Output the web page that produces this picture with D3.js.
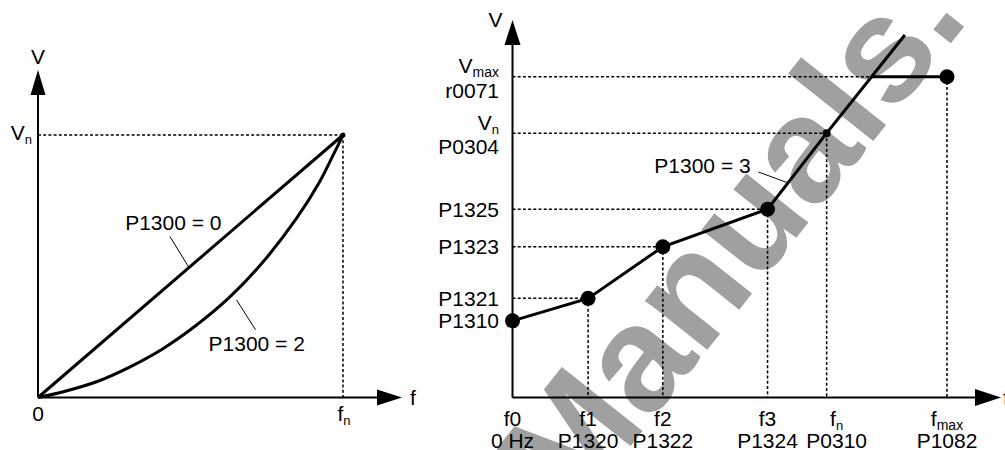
<!DOCTYPE html>
<html>
<head>
<meta charset="utf-8">
<script src="https://cdn.jsdelivr.net/npm/d3@7"></script>
<style>
  html, body { margin: 0; padding: 0; background: #fff; }
  svg { display: block; }
  text { font-family: "Liberation Sans", Arial, sans-serif; font-size: 21px; fill: #000; }
</style>
</head>
<body>
<svg id="chart" width="1005" height="450"></svg>
<script>
// ---------------- DATA ----------------
// Left chart: normalised f/fn and V/Vn
const linearF = [0, 1];
const linearV = [0, 1];
const quadF = [0, 0.083, 0.192, 0.302, 0.411, 0.520, 0.630, 0.739, 0.848, 0.924, 0.968, 1.0];
const quadV = [0, 0.022, 0.060, 0.117, 0.187, 0.276, 0.384, 0.518, 0.683, 0.823, 0.924, 1.0];
const leftCurveLabels = ["P1300 = 0", "P1300 = 2"];

// Right chart: programmable V/f (units: % of fmax / % of Vmax)
const boostF = [0, 17.4, 34.6, 58.7, 72.3];
const boostV = [23.9, 30.9, 47.0, 58.7, 82.4];
const boostVNames = ["P1310", "P1321", "P1323", "P1325", "P0304"];
const boostFTop = ["f0", "f1", "f2", "f3", "f|n"];
const boostFBottom = ["0 Hz", "P1320", "P1322", "P1324", "P0310"];
const lineEnd = [90.3, 113];
const fmax = 100, vmax = 100;
const fmaxLabels = ["f|max", "P1082"];
const vmaxLabels = ["V|max", "r0071"];
const vnLabels = ["V|n", "P0304"];
const rightCurveLabel = "P1300 = 3";
const watermark = "Manuals.";

// ---------------- DRAW ----------------
const svg = d3.select("#chart");
svg.append("rect").attr("width", 1005).attr("height", 450).attr("fill", "#fff");

// watermark (beneath the drawing)
svg.append("text")
  .attr("transform", "translate(571,521) rotate(-51.5)")
  .style("font-size", "150px")
  .style("font-weight", "bold")
  .style("fill", "#a0a0a0")
  .text(watermark);

const DASH = "3,2.2";
function subText(g, str, x, y, anchor, size) {
  const parts = str.split("|");
  const t = g.append("text").attr("x", x).attr("y", y).attr("text-anchor", anchor);
  t.append("tspan").text(parts[0]);
  if (parts[1]) t.append("tspan").attr("dy", 4).style("font-size", (size || 13) + "px").text(parts[1]);
  return t;
}
function arrowUp(g, x, tipY, len, hw) {
  g.append("path").attr("d", `M${x},${tipY} L${x - hw},${tipY + len} L${x + hw},${tipY + len} Z`).attr("fill", "#000");
}
function arrowRight(g, tipX, y, len, hh) {
  g.append("path").attr("d", `M${tipX},${y} L${tipX - len},${y - hh} L${tipX - len},${y + hh} Z`).attr("fill", "#000");
}

// ----- Left chart -----
const L = svg.append("g");
const xL = d3.scaleLinear().domain([0, 1]).range([38, 343]);
const yL = d3.scaleLinear().domain([0, 1]).range([397.5, 135]);
L.append("line").attr("x1", xL(0)).attr("y1", yL(0)).attr("x2", 380).attr("y2", yL(0)).attr("stroke", "#000").attr("stroke-width", 2);
L.append("line").attr("x1", xL(0)).attr("y1", yL(0)).attr("x2", xL(0)).attr("y2", 92).attr("stroke", "#000").attr("stroke-width", 2);
arrowUp(L, xL(0), 70, 25, 7.5);
arrowRight(L, 402, yL(0), 25, 8);
L.append("line").attr("x1", xL(0)).attr("y1", yL(1)).attr("x2", xL(1)).attr("y2", yL(1)).attr("stroke", "#000").attr("stroke-width", 1.5).attr("stroke-dasharray", DASH);
L.append("line").attr("x1", xL(1)).attr("y1", yL(1)).attr("x2", xL(1)).attr("y2", yL(0)).attr("stroke", "#000").attr("stroke-width", 1.5).attr("stroke-dasharray", DASH);
const lineGenL = d3.line().x(d => xL(d[0])).y(d => yL(d[1]));
L.append("path").attr("d", lineGenL(d3.zip(linearF, linearV))).attr("fill", "none").attr("stroke", "#000").attr("stroke-width", 3);
L.append("path").attr("d", d3.line().x(d => xL(d[0])).y(d => yL(d[1])).curve(d3.curveCatmullRom)(d3.zip(quadF, quadV)))
  .attr("fill", "none").attr("stroke", "#000").attr("stroke-width", 3);
L.append("circle").attr("cx", xL(1)).attr("cy", yL(1)).attr("r", 2.5).attr("fill", "#000");
// leader lines + labels
const a0 = 0.495;
L.append("line").attr("x1", xL(a0) - 19).attr("y1", yL(a0) - 31).attr("x2", xL(a0)).attr("y2", yL(a0)).attr("stroke", "#000").attr("stroke-width", 1);
L.append("text").attr("x", 173.3).attr("y", 230).attr("text-anchor", "middle").text(leftCurveLabels[0]);
const a2f = 0.651, a2v = 0.372;
L.append("line").attr("x1", xL(a2f)).attr("y1", yL(a2v)).attr("x2", xL(a2f) + 19).attr("y2", yL(a2v) + 30).attr("stroke", "#000").attr("stroke-width", 1);
L.append("text").attr("x", 256.7).attr("y", 351).attr("text-anchor", "middle").text(leftCurveLabels[1]);
L.append("text").attr("x", xL(0)).attr("y", 63.5).attr("text-anchor", "middle").text("V");
subText(L, "V|n", 32, 140, "end", 13);
L.append("text").attr("x", xL(0)).attr("y", 421).attr("text-anchor", "middle").text("0");
subText(L, "f|n", xL(1) + 1, 421, "middle", 13);
L.append("text").attr("x", 413).attr("y", 405).attr("text-anchor", "middle").text("f");

// ----- Right chart -----
const R = svg.append("g");
const xR = d3.scaleLinear().domain([0, 100]).range([512.5, 947]);
const yR = d3.scaleLinear().domain([0, 100]).range([397.5, 76.7]);
R.append("line").attr("x1", xR(0)).attr("y1", yR(0)).attr("x2", 980).attr("y2", yR(0)).attr("stroke", "#000").attr("stroke-width", 2);
R.append("line").attr("x1", xR(0)).attr("y1", yR(0)).attr("x2", xR(0)).attr("y2", 42).attr("stroke", "#000").attr("stroke-width", 2);
arrowUp(R, xR(0), 20, 25, 8);
arrowRight(R, 1001, yR(0), 26, 8.5);

const sl = (lineEnd[1] - boostV[4]) / (lineEnd[0] - boostF[4]);
const fCross = boostF[4] + (vmax - boostV[4]) / sl;

const dashed = (x1, y1, x2, y2) => R.append("line").attr("x1", x1).attr("y1", y1).attr("x2", x2).attr("y2", y2)
  .attr("stroke", "#000").attr("stroke-width", 1.5).attr("stroke-dasharray", DASH);
for (let i = 1; i < boostF.length; i++) {
  dashed(xR(0), yR(boostV[i]), xR(boostF[i]), yR(boostV[i]));
  dashed(xR(boostF[i]), yR(boostV[i]), xR(boostF[i]), yR(0));
}
dashed(xR(0), yR(vmax), xR(fCross), yR(vmax));
dashed(xR(fmax), yR(vmax), xR(fmax), yR(0));

const lineGenR = d3.line().x(d => xR(d[0])).y(d => yR(d[1]));
const pts = d3.zip(boostF, boostV).concat([lineEnd]);
R.append("path").attr("d", lineGenR(pts)).attr("fill", "none").attr("stroke", "#000").attr("stroke-width", 3);
R.append("path").attr("d", lineGenR([[fCross, vmax], [fmax, vmax]])).attr("fill", "none").attr("stroke", "#000").attr("stroke-width", 3);

R.selectAll("circle.big").data(d3.zip(boostF, boostV).slice(0, 4).concat([[fmax, vmax]])).join("circle")
  .attr("class", "big").attr("cx", d => xR(d[0])).attr("cy", d => yR(d[1])).attr("r", 7.5).attr("fill", "#000");
R.append("circle").attr("cx", xR(boostF[4])).attr("cy", yR(boostV[4])).attr("r", 4).attr("fill", "#000");

const a3f = 63.5, a3v = boostV[3] + sl * (a3f - boostF[3]);
R.append("line").attr("x1", xR(a3f)).attr("y1", yR(a3v)).attr("x2", xR(a3f) - 30).attr("y2", yR(a3v) - 11).attr("stroke", "#000").attr("stroke-width", 1);
R.append("text").attr("x", 702.5).attr("y", 172.5).attr("text-anchor", "middle").text(rightCurveLabel);

const yLabX = xR(0) - 13.5;
for (let i = 0; i < 4; i++) {
  R.append("text").attr("x", yLabX).attr("y", yR(boostV[i]) + 7.5).attr("text-anchor", "end").text(boostVNames[i]);
}
subText(R, vnLabels[0], yLabX, yR(boostV[4]) - 3, "end", 13);
R.append("text").attr("x", yLabX).attr("y", yR(boostV[4]) + 21).attr("text-anchor", "end").text(vnLabels[1]);
subText(R, vmaxLabels[0], yLabX, yR(vmax) - 4, "end", 14);
R.append("text").attr("x", yLabX).attr("y", yR(vmax) + 21).attr("text-anchor", "end").text(vmaxLabels[1]);
R.append("text").attr("x", xR(0) - 10).attr("y", 27).attr("text-anchor", "end").text("V");

// x labels (fn labels sit slightly right of their line, as in the original)
for (let i = 0; i < boostF.length; i++) {
  const lx = xR(boostF[i]) + (i === 4 ? 10 : 0);
  subText(R, boostFTop[i], lx, 425.5, "middle", 13);
  R.append("text").attr("x", lx).attr("y", 448).attr("text-anchor", "middle").text(boostFBottom[i]);
}
subText(R, fmaxLabels[0], xR(fmax), 425.5, "middle", 14);
R.append("text").attr("x", xR(fmax)).attr("y", 448).attr("text-anchor", "middle").text(fmaxLabels[1]);
R.append("text").attr("x", 1003).attr("y", 405).attr("text-anchor", "start").text("f");
</script>
</body>
</html>
